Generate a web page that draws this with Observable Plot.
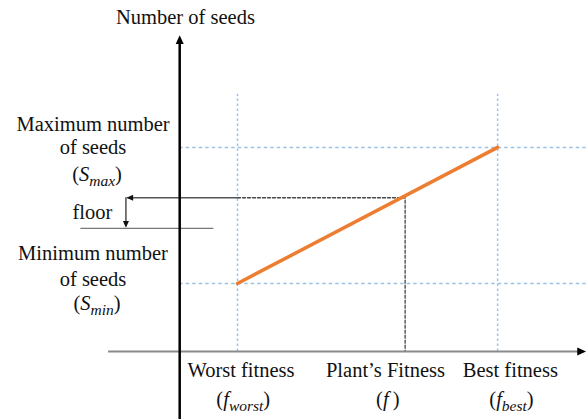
<!DOCTYPE html>
<html><head><meta charset="utf-8">
<script src="https://cdn.jsdelivr.net/npm/d3@7"></script>
<script src="https://cdn.jsdelivr.net/npm/@observablehq/plot@0.6"></script>
<style>body{margin:0;background:#fff} svg text{font-family:'Liberation Serif','Times New Roman',serif !important;}</style>
</head><body><div id="chart"></div>
<script>
// ---- data (conceptual units) ----
const fitnessNames = ["worst", "plant", "best"];
const fitnessValues = [1, 3.9, 5.5];
const fitnessLabels = ["Worst fitness", "Plant’s Fitness", "Best fitness"];
const fitnessSymbols = ["(f|worst)", "(f|)", "(f|best)"];
const seedNames = ["min", "max"];
const seedValues = [2, 6];
const seedLabelLines = [["Minimum number", "of seeds", "(S|min)"], ["Maximum number", "of seeds", "(S|max)"]];
const plantSeeds = 4.52;
const flooredSeeds = 3.62;
const axisTitleY = "Number of seeds";
const floorLabel = "floor";

const fWorst = fitnessValues[0], fPlant = fitnessValues[1], fBest = fitnessValues[2];
const sMin = seedValues[0], sMax = seedValues[1];

// custom filled triangle symbols, tip at origin
function tri(dir) {
  return {draw(ctx, size) {
    const r = Math.sqrt(size / Math.PI);
    const L = r * 2.2, W = r * 1.0;
    const pts = {
      up: [[0,0],[-W,L],[W,L]],
      down: [[0,0],[-W,-L],[W,-L]],
      left: [[0,0],[L,-W],[L,W]],
      right: [[0,0],[-L,-W],[-L,W]]
    }[dir];
    ctx.moveTo(pts[0][0], pts[0][1]);
    ctx.lineTo(pts[1][0], pts[1][1]);
    ctx.lineTo(pts[2][0], pts[2][1]);
    ctx.closePath();
  }};
}

const FONT = "'Liberation Serif', 'Times New Roman', serif";
const blue = "#9cc3e5";
const xMin = -3.1, xMax = 7.055, yMin = -2, yMax = 10.32;
const xTip = 7.03, yTip = 9.3;

const leftRows = [];
seedLabelLines.forEach((lines, i) => {
  const offs = i === 0 ? [0.87, 0.12, -0.59] : [0.69, -0.01, -0.8];
  lines.forEach((t, j) => leftRows.push({text: t, y: seedValues[i] + offs[j], math: t.includes("|")}));
});
const bottomRows = fitnessLabels.map((t, i) => ({text: t, x: fitnessValues[i] + [0.06, -0.34, 0.22][i]}));
const bottomMath = fitnessSymbols.map((t, i) => ({text: t, x: fitnessValues[i] + [0.1, -0.3, 0.24][i]}));

const txt = {fontSize: 20.5, fill: "#111", fontFamily: FONT};

const chart = Plot.plot({
  width: 587, height: 419,
  marginLeft: 0, marginRight: 0, marginTop: 0, marginBottom: 0,
  x: {domain: [xMin, xMax], axis: null},
  y: {domain: [yMin, yMax], axis: null},
  style: {fontFamily: FONT, background: "#fff"},
  marks: [
    // light-blue dotted guides
    Plot.ruleX([fWorst, fBest], {y1: 0, y2: 7.56, stroke: blue, strokeWidth: 1.5, strokeDasharray: "2.5,2.5"}),
    Plot.ruleY(seedValues, {x1: 0, x2: xMax, stroke: blue, strokeWidth: 1.5, strokeDasharray: "3.5,3"}),
    // dashed projection of the plant
    Plot.line([[fWorst, plantSeeds], [fPlant, plantSeeds], [fPlant, 0]], {stroke: "#444", strokeWidth: 1.3, strokeDasharray: "3,2"}),
    // gray arrow to axis then floor
    Plot.line([[fWorst, plantSeeds], [-0.9, plantSeeds]], {stroke: "#555", strokeWidth: 1.3}),
    Plot.line([[-0.93, plantSeeds], [-0.93, flooredSeeds + 0.2]], {stroke: "#333", strokeWidth: 1.3}),
    Plot.ruleY([flooredSeeds], {x1: -1.71, x2: 0.59, stroke: "#777", strokeWidth: 1.2}),
    Plot.dot([[-0.92, plantSeeds]], {symbol: tri("left"), r: 3, fill: "#111", stroke: null}),
    Plot.dot([[-0.93, flooredSeeds + 0.02]], {symbol: tri("down"), r: 3, fill: "#111", stroke: null}),
    // axes
    Plot.ruleY([0], {x1: -1.23, x2: xTip - 0.1, stroke: "#8a8a8a", strokeWidth: 2}),
    Plot.ruleX([0], {y1: yMin, y2: yTip - 0.2, stroke: "#000", strokeWidth: 2.5}),
    Plot.dot([[xTip, 0]], {symbol: tri("right"), r: 4, fill: "#000", stroke: null}),
    Plot.dot([[0, yTip]], {symbol: tri("up"), r: 4, fill: "#000", stroke: null}),
    // orange linear relation
    Plot.line([[fWorst, sMin], [fBest, sMax]], {stroke: "#ed7d31", strokeWidth: 3.5}),
    // texts
    Plot.text([axisTitleY], {x: 0.1, y: 9.82, ...txt}),
    Plot.text(leftRows.filter(d => !d.math), {x: -1.5, y: "y", text: "text", ...txt}),
    Plot.text(leftRows.filter(d => d.math), {x: -1.43, y: "y", text: "text", ...txt}),
    Plot.text([floorLabel], {x: -1.51, y: 4.09, ...txt}),
    Plot.text(bottomRows, {x: "x", y: -0.56, text: "text", ...txt}),
    Plot.text(bottomMath, {x: "x", y: -1.41, text: "text", ...txt})
  ]
});

// turn "(V|sub)" into math-style text with italic symbol and subscript
d3.select(chart).selectAll("text").each(function() {
  const raw = this.textContent;
  const m = raw.match(/^\((.)\|(.*)\)$/);
  if (!m) return;
  const t = d3.select(this);
  t.text(null);
  t.append("tspan").text("(");
  t.append("tspan").attr("font-style", "italic").text(m[1] + (m[2] ? "" : "\u2009"));
  if (m[2]) {
    t.append("tspan").attr("font-style", "italic").attr("font-size", 15.5).attr("dy", 5).text(m[2]);
    t.append("tspan").attr("dy", -5).text(")");
  } else {
    t.append("tspan").text(")");
  }
});

document.getElementById("chart").appendChild(chart);
</script>
</body></html>
